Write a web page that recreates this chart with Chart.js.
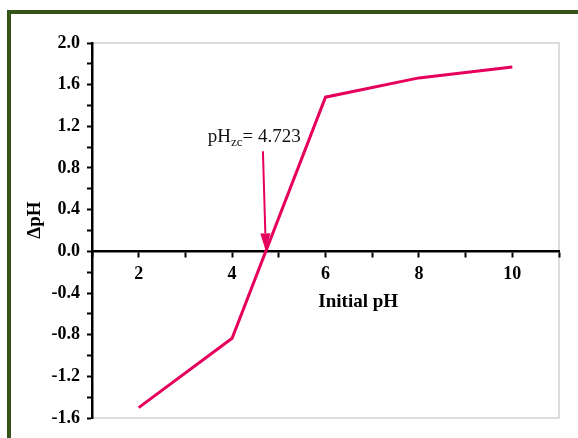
<!DOCTYPE html>
<html lang="en">
<head>
<meta charset="UTF-8">
<title>Delta pH vs Initial pH</title>
<script src="https://cdn.jsdelivr.net/npm/chart.js"></script>
<style>
  html, body { margin: 0; padding: 0; background: #fff; overflow: hidden; }
  #frame { position: absolute; left: 7px; top: 10px; width: 620px; height: 480px; border: 4px solid #365419; }
  #wrap { position: absolute; left: 0; top: 0; width: 578px; height: 438px; }
</style>
</head>
<body>
<div id="frame"></div>
<div id="wrap"><canvas id="phChart"></canvas></div>
<script>
// data
const initialPH = [2, 4, 6, 8, 10];
const deltaPH = [-1.50, -0.835, 1.48, 1.665, 1.77];
const xTickLabels = [2, 4, 6, 8, 10];
const yTickLabels = ['-1.6', '-1.2', '-0.8', '-0.4', '0.0', '0.4', '0.8', '1.2', '1.6', '2.0'];

// point of zero charge annotation (data units)
const pzc = 4.723;
const pzcLabelAt = [3.48, 1.05];
const arrowTail = [4.66, 0.96];

// axis titles; the original sets them off-centre
const xTitle = 'Initial pH';
const xTitleAt = 6.7;   // x value under the title centre
const yTitle = 'ΔpH';
const yTitleAt = 0.3;   // y value beside the title centre

const pink = '#e6005c';
const serif = '"Liberation Serif", "Times New Roman", serif';

const pzcPlugin = {
    id: 'pzc',
    beforeDraw(chart) {
        const { ctx, chartArea: a } = chart;
        ctx.save();
        ctx.strokeStyle = '#d2d2d2';
        ctx.lineWidth = 1.5;
        ctx.strokeRect(a.left, a.top, a.right - a.left, a.bottom - a.top);
        ctx.restore();
    },
    afterDatasetsDraw(chart) {
        const { ctx, chartArea: a, scales: { x, y } } = chart;
        const tx = x.getPixelForValue(arrowTail[0]), ty = y.getPixelForValue(arrowTail[1]);
        const hx = x.getPixelForValue(pzc), hy = y.getPixelForValue(0);
        const ang = Math.atan2(hy - ty, hx - tx);
        const len = 18, half = 5;
        const bx = hx - len * Math.cos(ang), by = hy - len * Math.sin(ang);

        ctx.save();
        ctx.strokeStyle = pink;
        ctx.fillStyle = pink;
        ctx.lineWidth = 2;
        ctx.beginPath();
        ctx.moveTo(tx, ty);
        ctx.lineTo(bx, by);
        ctx.stroke();
        ctx.beginPath();
        ctx.moveTo(hx, hy);
        ctx.lineTo(bx + half * Math.sin(ang), by - half * Math.cos(ang));
        ctx.lineTo(bx - half * Math.sin(ang), by + half * Math.cos(ang));
        ctx.closePath();
        ctx.fill();

        // label: pH_zc = 4.723
        let lx = x.getPixelForValue(pzcLabelAt[0]);
        const ly = y.getPixelForValue(pzcLabelAt[1]);
        ctx.fillStyle = '#111';
        ctx.textBaseline = 'alphabetic';
        ctx.textAlign = 'left';
        ctx.font = '19px ' + serif;
        ctx.fillText('pH', lx, ly);
        lx += ctx.measureText('pH').width;
        ctx.font = '13px ' + serif;
        ctx.fillText('zc', lx, ly + 4);
        lx += ctx.measureText('zc').width;
        ctx.font = '19px ' + serif;
        ctx.fillText('= ' + pzc.toFixed(3), lx, ly);

        // axis titles
        ctx.fillStyle = '#000';
        ctx.font = 'bold 19px ' + serif;
        ctx.textAlign = 'center';
        ctx.textBaseline = 'middle';
        ctx.fillText(xTitle, x.getPixelForValue(xTitleAt), y.getPixelForValue(0) + 51);
        ctx.translate(a.left - 57, y.getPixelForValue(yTitleAt));
        ctx.rotate(-Math.PI / 2);
        ctx.fillText(yTitle, 0, 0);
        ctx.restore();
    }
};

const ctx = document.getElementById('phChart').getContext('2d');
new Chart(ctx, {
    type: 'line',
    data: {
        datasets: [{
            data: initialPH.map((v, i) => ({ x: v, y: deltaPH[i] })),
            borderColor: pink,
            borderWidth: 3,
            pointRadius: 0,
            tension: 0,
            fill: false
        }]
    },
    options: {
        responsive: true,
        maintainAspectRatio: false,
        animation: false,
        layout: { padding: { left: 20, top: 43, right: 19, bottom: 20 } },
        plugins: { legend: { display: false }, tooltip: { enabled: false } },
        scales: {
            x: {
                type: 'linear',
                position: { y: 0 },
                min: 1,
                max: 11,
                ticks: {
                    stepSize: 1,
                    autoSkip: false,
                    maxRotation: 0,
                    padding: 7,
                    color: '#000',
                    font: { family: serif, size: 18, weight: 'bold' },
                    callback: (v) => xTickLabels.includes(v) ? String(v) : ''
                },
                grid: { drawOnChartArea: false, tickLength: 5, tickColor: '#000', tickWidth: 2 },
                border: { color: '#000', width: 2.5 }
            },
            y: {
                min: -1.6,
                max: 2.0,
                afterFit: (s) => { s.width = 72; },
                ticks: {
                    stepSize: 0.2,
                    autoSkip: false,
                    padding: 7,
                    color: '#000',
                    font: { family: serif, size: 18, weight: 'bold' },
                    callback: (v) => {
                        const t = (Math.abs(v) < 1e-9 ? 0 : v).toFixed(1);
                        return yTickLabels.includes(t) ? t : '';
                    }
                },
                grid: { drawOnChartArea: false, tickLength: 5, tickColor: '#000', tickWidth: 2 },
                border: { color: '#000', width: 2.5 }
            }
        }
    },
    plugins: [pzcPlugin]
});
</script>
</body>
</html>
